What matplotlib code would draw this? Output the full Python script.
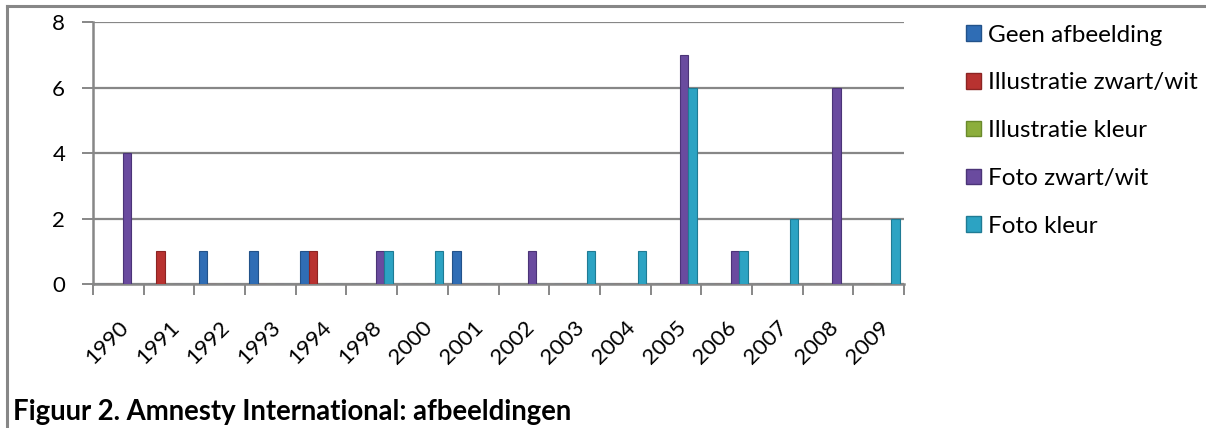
import numpy as np
import matplotlib.pyplot as plt
from matplotlib.lines import Line2D
from matplotlib.patches import Patch

plt.rcParams['font.family'] = ['Lato', 'DejaVu Sans']

years = ["1990", "1991", "1992", "1993", "1994", "1998", "2000", "2001",
         "2002", "2003", "2004", "2005", "2006", "2007", "2008", "2009"]

geen_afbeelding = [0, 0, 1, 1, 1, 0, 0, 1, 0, 0, 0, 0, 0, 0, 0, 0]
illustratie_zw = [0, 1, 0, 0, 1, 0, 0, 0, 0, 0, 0, 0, 0, 0, 0, 0]
illustratie_kleur = [0, 0, 0, 0, 0, 0, 0, 0, 0, 0, 0, 0, 0, 0, 0, 0]
foto_zw = [4, 0, 0, 0, 0, 1, 0, 0, 1, 0, 0, 7, 1, 0, 6, 0]
foto_kleur = [0, 0, 0, 0, 0, 1, 1, 0, 0, 1, 1, 6, 1, 2, 0, 2]

series_names = ["Geen afbeelding", "Illustratie zwart/wit", "Illustratie kleur",
                "Foto zwart/wit", "Foto kleur"]
series_values = [geen_afbeelding, illustratie_zw, illustratie_kleur, foto_zw, foto_kleur]
colors = ["#2f6db5", "#b83230", "#8cae3c", "#6a4b9f", "#2ca3c3"]
edges = ["#22528a", "#8c2423", "#6a8a2c", "#4b3477", "#1f7b94"]

title = "Figuur 2. Amnesty International: afbeeldingen"
grey = "#878787"

fig = plt.figure(figsize=(12.06, 4.28), dpi=100)
ax = fig.add_axes([0.0771, 0.3364, 0.6725, 0.6122])

x = np.arange(len(years))
bar_w = 0.165
for i, (name, vals, col, ec) in enumerate(zip(series_names, series_values, colors, edges)):
    ax.bar(x + (i - 2) * bar_w, vals, width=bar_w, color=col, label=name,
           edgecolor=ec, linewidth=0.8, zorder=3)

ax.set_xlim(-0.5, len(years) - 0.5)
ax.set_ylim(0, 8)
ax.set_yticks([0, 2, 4, 6, 8])
ax.yaxis.grid(True, color=grey, linewidth=1.6, zorder=0)

# category labels centred, tick marks on the category boundaries
ax.set_xticks(x)
ax.set_xticklabels(years, rotation=45, ha="right", va="top",
                   rotation_mode="anchor", fontsize=16)
ax.set_xticks(np.arange(-0.5, len(years)), minor=True)
ax.tick_params(axis="x", which="major", length=0, pad=24)
ax.tick_params(axis="x", which="minor", length=8, width=1.4, color=grey, direction="out")
ax.tick_params(axis="y", length=8, width=1.4, color=grey, labelsize=16, pad=12)

for side in ("top", "right"):
    ax.spines[side].set_visible(False)
for side in ("left", "bottom"):
    ax.spines[side].set_color(grey)
    ax.spines[side].set_linewidth(1.8)

handles = [Patch(facecolor=c, edgecolor=e) for c, e in zip(colors, edges)]
fig.legend(handles, series_names, loc="upper left", bbox_to_anchor=(0.793, 0.965),
           frameon=False, fontsize=17.5, handlelength=0.6, handleheight=0.6,
           handletextpad=0.3, labelspacing=1.1, borderaxespad=0)

# caption below the chart, sized to run to about x=575 px
cap = fig.text(0.0108, 0.019, title, fontsize=18, fontweight="bold",
               ha="left", va="baseline")
renderer = fig.canvas.get_renderer()
w = cap.get_window_extent(renderer).width
cap.set_fontsize(18 * 562 / w)

# outer frame around the figure
fig.add_artist(Line2D([0.006, 1.0], [0.986, 0.986], color=grey, linewidth=2.2))
fig.add_artist(Line2D([0.006, 0.006], [0.0, 0.986], color=grey, linewidth=2.2))

fig.savefig("out.png", dpi=100)
